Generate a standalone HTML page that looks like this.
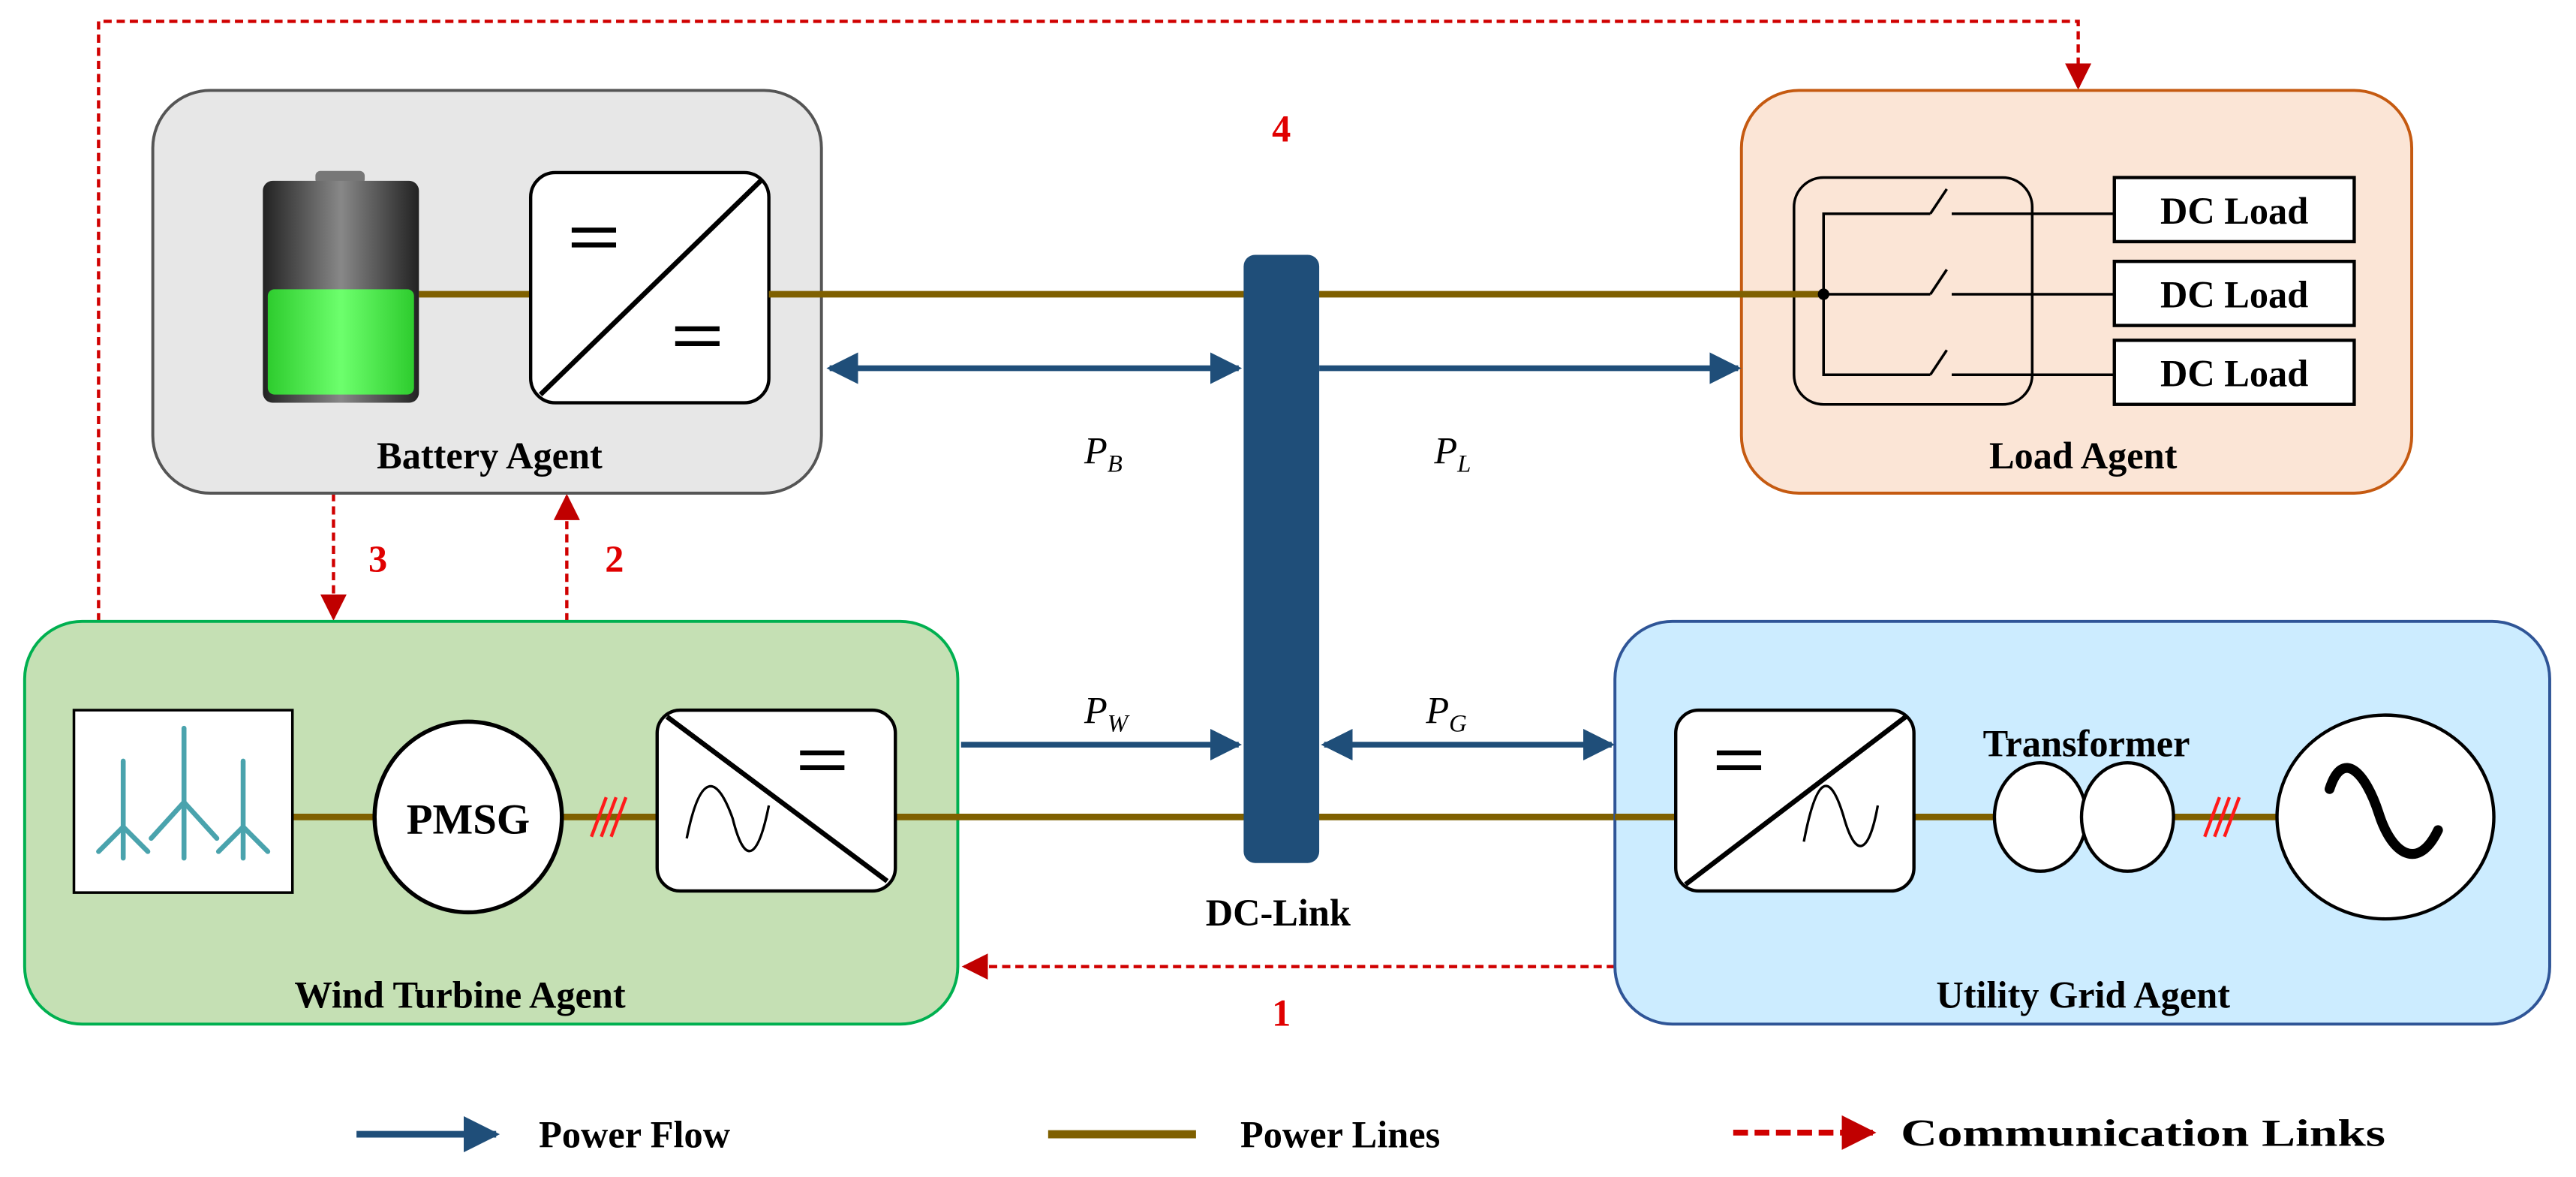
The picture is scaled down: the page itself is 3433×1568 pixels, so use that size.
<!DOCTYPE html>
<html><head><meta charset="utf-8"><style>
html,body{margin:0;padding:0;background:#fff;}
svg{display:block;}
text{font-family:"Liberation Serif",serif;font-weight:bold;}
</style></head><body>
<svg width="3433" height="1568" viewBox="0 0 1568 716" preserveAspectRatio="none" xmlns="http://www.w3.org/2000/svg">
<defs>
<marker id="bh" viewBox="0 0 10 10" refX="9" refY="5" markerWidth="5.5" markerHeight="5.5" orient="auto-start-reverse"><path d="M0,0 L10,5 L0,10 z" fill="#1f4e79"/></marker>
<marker id="rh" viewBox="0 0 10 10" refX="9" refY="5" markerWidth="8" markerHeight="8" orient="auto-start-reverse"><path d="M0,0 L10,5 L0,10 z" fill="#c00000"/></marker>
<marker id="rh2" viewBox="0 0 10 10" refX="9" refY="5" markerWidth="6" markerHeight="7" orient="auto-start-reverse"><path d="M0,0 L10,5 L0,10 z" fill="#c00000"/></marker>
<linearGradient id="bat" x1="0" x2="1"><stop offset="0" stop-color="#222"/><stop offset="0.5" stop-color="#888"/><stop offset="1" stop-color="#222"/></linearGradient>
<linearGradient id="batg" x1="0" x2="1"><stop offset="0" stop-color="#2ecc2e"/><stop offset="0.5" stop-color="#6dff6d"/><stop offset="1" stop-color="#2ecc2e"/></linearGradient>
</defs>

<g stroke="#d00000" stroke-width="2" fill="none" stroke-dasharray="5,3">
<polyline points="60,378 60,13 1265,13 1265,53" marker-end="url(#rh)"/>
<line x1="203" y1="300" x2="203" y2="376" marker-end="url(#rh)"/>
<line x1="345" y1="378" x2="345" y2="302" marker-end="url(#rh)"/>
<line x1="983" y1="588" x2="587" y2="588" marker-end="url(#rh)"/>
</g>
<g fill="#e00000" font-size="23" text-anchor="middle">
<text x="780" y="86">4</text><text x="230" y="348">3</text><text x="374" y="348">2</text><text x="780" y="624">1</text>
</g>

<rect x="93" y="55" width="407" height="245" rx="35" fill="#e7e7e7" stroke="#555" stroke-width="1.8"/>
<line x1="255" y1="179" x2="323" y2="179" stroke="#7f6000" stroke-width="4"/>
<rect x="192" y="104" width="30" height="8" rx="3" fill="#777"/>
<rect x="160" y="110" width="95" height="135" rx="6" fill="url(#bat)"/>
<rect x="163" y="176" width="89" height="64" rx="4" fill="url(#batg)"/>
<rect x="323" y="105" width="145" height="140" rx="15" fill="#fff" stroke="#000" stroke-width="2"/>
<line x1="329" y1="240" x2="463" y2="110" stroke="#000" stroke-width="3"/>
<g stroke="#000" stroke-width="3"><line x1="348" y1="140" x2="375" y2="140"/><line x1="348" y1="149" x2="375" y2="149"/><line x1="411" y1="200" x2="438" y2="200"/><line x1="411" y1="209" x2="438" y2="209"/></g>
<text x="298" y="285" font-size="23" text-anchor="middle">Battery Agent</text>

<rect x="1060" y="55" width="408" height="245" rx="35" fill="#fbe5d6" stroke="#c55a11" stroke-width="1.8"/>
<rect x="1092" y="108" width="145" height="138" rx="18" fill="none" stroke="#000" stroke-width="1.6"/>
<g stroke="#000" stroke-width="1.6" fill="none">
<polyline points="1287,130 1188,130"/><polyline points="1175,130 1110,130 1110,228 1175,228"/><line x1="1188" y1="228" x2="1287" y2="228"/>
<line x1="1110" y1="179" x2="1175" y2="179"/><line x1="1188" y1="179" x2="1287" y2="179"/>
<line x1="1175" y1="130" x2="1185" y2="115"/><line x1="1175" y1="179" x2="1185" y2="164"/><line x1="1175" y1="228" x2="1185" y2="213"/>
</g>
<g fill="#fff" stroke="#000" stroke-width="2">
<rect x="1287" y="108" width="146" height="39"/><rect x="1287" y="159" width="146" height="39"/><rect x="1287" y="207" width="146" height="39"/>
</g>
<g font-size="23" text-anchor="middle"><text x="1360" y="136">DC Load</text><text x="1360" y="187">DC Load</text><text x="1360" y="235">DC Load</text></g>
<text x="1268" y="285" font-size="23" text-anchor="middle">Load Agent</text>

<line x1="468" y1="179" x2="1110" y2="179" stroke="#7f6000" stroke-width="4"/>
<circle cx="1110" cy="179" r="3.5" fill="#000"/>

<rect x="15" y="378" width="568" height="245" rx="35" fill="#c5e0b4" stroke="#00b050" stroke-width="1.8"/>
<line x1="178" y1="497" x2="1020" y2="497" stroke="#7f6000" stroke-width="4"/>
<rect x="45" y="432" width="133" height="111" fill="#fff" stroke="#000" stroke-width="1.6"/>
<g stroke="#4aa3ad" stroke-width="3" stroke-linecap="round">
<line x1="112" y1="443" x2="112" y2="522"/><line x1="112" y1="488" x2="92" y2="510"/><line x1="112" y1="488" x2="132" y2="510"/>
<line x1="75" y1="463" x2="75" y2="522"/><line x1="75" y1="503" x2="60" y2="518"/><line x1="75" y1="503" x2="90" y2="518"/>
<line x1="148" y1="463" x2="148" y2="522"/><line x1="148" y1="503" x2="133" y2="518"/><line x1="148" y1="503" x2="163" y2="518"/>
</g>
<ellipse cx="285" cy="497" rx="57" ry="58" fill="#fff" stroke="#000" stroke-width="2.5"/>
<text x="285" y="507" font-size="26" text-anchor="middle">PMSG</text>
<g stroke="#ff1a1a" stroke-width="2"><line x1="360" y1="509" x2="369" y2="485"/><line x1="366" y1="509" x2="375" y2="485"/><line x1="372" y1="509" x2="381" y2="485"/></g>
<rect x="400" y="432" width="145" height="110" rx="14" fill="#fff" stroke="#000" stroke-width="2"/>
<line x1="406" y1="436" x2="540" y2="536" stroke="#000" stroke-width="3"/>
<g stroke="#000" stroke-width="3"><line x1="487" y1="458" x2="514" y2="458"/><line x1="487" y1="467" x2="514" y2="467"/></g>
<path d="M418,510 C426,470 436,470 446,498 C454,530 462,520 468,490" fill="none" stroke="#000" stroke-width="1.5"/>
<text x="280" y="613" font-size="23" text-anchor="middle">Wind Turbine Agent</text>

<rect x="983" y="378" width="569" height="245" rx="35" fill="#ccecff" stroke="#2f5597" stroke-width="1.8"/>
<line x1="983" y1="497" x2="1020" y2="497" stroke="#7f6000" stroke-width="4"/>
<line x1="1165" y1="497" x2="1390" y2="497" stroke="#7f6000" stroke-width="4"/>
<rect x="1020" y="432" width="145" height="110" rx="14" fill="#fff" stroke="#000" stroke-width="2"/>
<line x1="1026" y1="538" x2="1160" y2="436" stroke="#000" stroke-width="3"/>
<g stroke="#000" stroke-width="3"><line x1="1045" y1="458" x2="1072" y2="458"/><line x1="1045" y1="467" x2="1072" y2="467"/></g>
<path d="M1098,512 C1106,470 1114,470 1122,496 C1130,525 1138,518 1143,490" fill="none" stroke="#000" stroke-width="1.5"/>
<ellipse cx="1242" cy="497" rx="28" ry="33" fill="#fff" stroke="#000" stroke-width="2"/>
<ellipse cx="1295" cy="497" rx="28" ry="33" fill="#fff" stroke="#000" stroke-width="2"/>
<text x="1270" y="460" font-size="23" text-anchor="middle">Transformer</text>
<g stroke="#ff1a1a" stroke-width="2"><line x1="1342" y1="509" x2="1351" y2="485"/><line x1="1348" y1="509" x2="1357" y2="485"/><line x1="1354" y1="509" x2="1363" y2="485"/></g>
<ellipse cx="1452" cy="497" rx="66" ry="62" fill="#fff" stroke="#000" stroke-width="2"/>
<path d="M1418,480 C1426,455 1440,470 1448,495 C1456,520 1472,530 1484,505" fill="none" stroke="#000" stroke-width="6" stroke-linecap="round"/>
<text x="1268" y="613" font-size="23" text-anchor="middle">Utility Grid Agent</text>

<rect x="757" y="155" width="46" height="370" rx="7" fill="#1f4e79"/>
<text x="778" y="563" font-size="23" text-anchor="middle">DC-Link</text>

<g stroke="#1f4e79" stroke-width="3.5" fill="none">
<line x1="505" y1="224" x2="754" y2="224" marker-start="url(#bh)" marker-end="url(#bh)"/>
<line x1="803" y1="224" x2="1058" y2="224" marker-end="url(#bh)"/>
<line x1="585" y1="453" x2="754" y2="453" marker-end="url(#bh)"/>
<line x1="806" y1="453" x2="981" y2="453" marker-start="url(#bh)" marker-end="url(#bh)"/>
</g>
<g font-size="23" font-style="italic">
<text x="660" y="282" style="font-weight:normal">P<tspan font-size="15" dy="5">B</tspan></text>
<text x="873" y="282" style="font-weight:normal">P<tspan font-size="15" dy="5">L</tspan></text>
<text x="660" y="440" style="font-weight:normal">P<tspan font-size="15" dy="5">W</tspan></text>
<text x="868" y="440" style="font-weight:normal">P<tspan font-size="15" dy="5">G</tspan></text>
</g>

<line x1="217" y1="690" x2="302" y2="690" stroke="#1f4e79" stroke-width="4" marker-end="url(#bh)"/>
<text x="328" y="698" font-size="23">Power Flow</text>
<line x1="638" y1="690" x2="728" y2="690" stroke="#7f6000" stroke-width="5"/>
<text x="755" y="698" font-size="23">Power Lines</text>
<line x1="1055" y1="689" x2="1140" y2="689" stroke="#d00000" stroke-width="3.5" stroke-dasharray="9,4" marker-end="url(#rh2)"/>
<text x="1157" y="697" font-size="23" textLength="295" lengthAdjust="spacingAndGlyphs">Communication Links</text>
</svg>
</body></html>
